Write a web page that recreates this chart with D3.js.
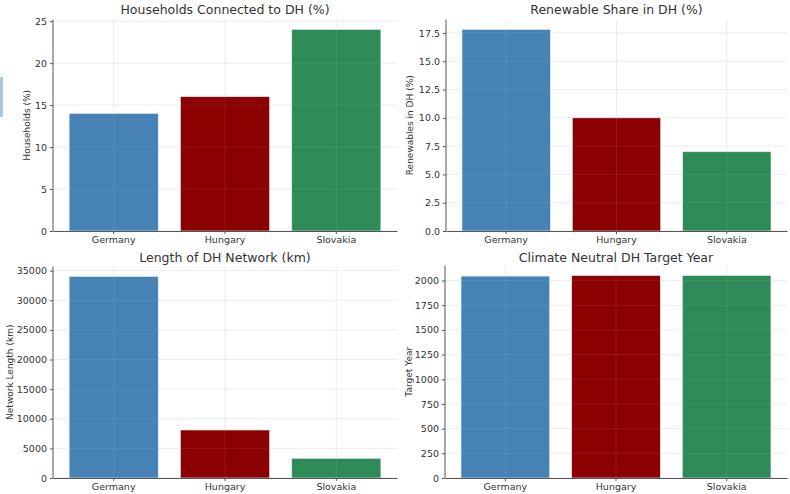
<!DOCTYPE html>
<html><head><meta charset="utf-8">
<script src="https://cdn.jsdelivr.net/npm/d3@7"></script>
<style>
body{margin:0;background:#fff;}
svg{display:block;font-family:"DejaVu Sans",sans-serif;}
</style></head><body>
<svg id="chart" width="790" height="494"></svg>
<script>
const countries = ["Germany", "Hungary", "Slovakia"];
const colors = ["#4682b4", "#8b0000", "#2e8b57"];
const households = [14, 16, 24];
const renewables = [17.8, 10, 7];
const networkKm = [34000, 8100, 3300];
const targetYear = [2045, 2050, 2050];
const householdTicks = [0, 5, 10, 15, 20, 25];
const renewableTicks = [0, 2.5, 5, 7.5, 10, 12.5, 15, 17.5];
const networkTicks = [0, 5000, 10000, 15000, 20000, 25000, 30000, 35000];
const yearTicks = [0, 250, 500, 750, 1000, 1250, 1500, 1750, 2000];

const panels = [
  {title:"Households Connected to DH (%)", ylabel:"Households (%)", values:households, ticks:householdTicks, fmt:d=>d, x0:53, x1:397, y0:231, ymaxPx:19.5, titleY:14, ylabX:30},
  {title:"Renewable Share in DH (%)", ylabel:"Renewables in DH (%)", values:renewables, ticks:renewableTicks, fmt:d=>d.toFixed(1), x0:446, x1:787, y0:231, ymaxPx:19.5, titleY:14, ylabX:413},
  {title:"Length of DH Network (km)", ylabel:"Network Length (km)", values:networkKm, ticks:networkTicks, fmt:d=>d, x0:53, x1:397, y0:478, ymaxPx:266.5, titleY:262, ylabX:13},
  {title:"Climate Neutral DH Target Year", ylabel:"Target Year", values:targetYear, ticks:yearTicks, fmt:d=>d, x0:445, x1:787, y0:478, ymaxPx:265.5, titleY:262, ylabX:412}
];

const svg = d3.select("#chart");
// small artifact at left edge
svg.append("rect").attr("x",0).attr("y",77).attr("width",3).attr("height",40).attr("fill","#a9c9dd");

panels.forEach(p => {
  const g = svg.append("g");
  const x = d3.scaleBand().domain(countries).range([p.x0, p.x1]).paddingInner(0.2).paddingOuter(0.145);
  const ymax = d3.max(p.values)*1.05;
  const y = d3.scaleLinear().domain([0, ymax]).range([p.y0, p.ymaxPx]);

  // grid
  g.append("g").selectAll("line.h").data(p.ticks).join("line")
    .attr("x1",p.x0).attr("x2",p.x1).attr("y1",d=>y(d)).attr("y2",d=>y(d))
    .attr("stroke","#e6e6e6").attr("stroke-width",0.8);
  g.append("g").selectAll("line.v").data(countries).join("line")
    .attr("x1",d=>x(d)+x.bandwidth()/2).attr("x2",d=>x(d)+x.bandwidth()/2)
    .attr("y1",p.y0).attr("y2",p.ymaxPx)
    .attr("stroke","#e6e6e6").attr("stroke-width",0.8);

  // bars
  g.append("g").selectAll("rect").data(p.values).join("rect")
    .attr("x",(d,i)=>x(countries[i])).attr("width",x.bandwidth())
    .attr("y",d=>y(d)).attr("height",d=>p.y0-y(d))
    .attr("fill",(d,i)=>colors[i]).attr("stroke","#dbe8f0").attr("stroke-width",0.6);
  // faint grid over bars
  g.append("g").selectAll("line.vo").data(countries).join("line")
    .attr("x1",d=>x(d)+x.bandwidth()/2).attr("x2",d=>x(d)+x.bandwidth()/2)
    .attr("y1",p.y0).attr("y2",p.ymaxPx)
    .attr("stroke","#ffffff").attr("stroke-opacity",0.12).attr("stroke-width",0.8);
  g.append("g").selectAll("line.ho").data(p.ticks).join("line")
    .attr("x1",p.x0).attr("x2",p.x1).attr("y1",d=>y(d)).attr("y2",d=>y(d))
    .attr("stroke","#ffffff").attr("stroke-opacity",0.1).attr("stroke-width",0.8);

  // axes
  const ya = g.append("g").attr("transform",`translate(${p.x0},0)`)
    .call(d3.axisLeft(y).tickValues(p.ticks).tickFormat(p.fmt).tickSize(3).tickSizeOuter(0).tickPadding(3));
  const xa = g.append("g").attr("transform",`translate(0,${p.y0})`)
    .call(d3.axisBottom(x).tickSize(3).tickSizeOuter(0).tickPadding(2));
  [ya, xa].forEach(a => {
    a.select(".domain").attr("stroke","#555").attr("stroke-width",1);
    a.selectAll(".tick line").attr("stroke","#555");
    a.selectAll(".tick text").attr("fill","#333").style("font-size","9.5px").style("font-family","DejaVu Sans, sans-serif");
  });
  ya.select(".domain").attr("d",`M0,${p.y0}V${p.ymaxPx}`);

  // title
  g.append("text").attr("x",(p.x0+p.x1)/2).attr("y",p.titleY).attr("text-anchor","middle")
    .attr("fill","#333").style("font-size","12.5px").text(p.title);
  // y label
  g.append("text").attr("transform",`translate(${p.ylabX},${(p.y0+p.ymaxPx)/2}) rotate(-90)`)
    .attr("text-anchor","middle").attr("fill","#333").style("font-size","9px").text(p.ylabel);
});
</script>
</body></html>
